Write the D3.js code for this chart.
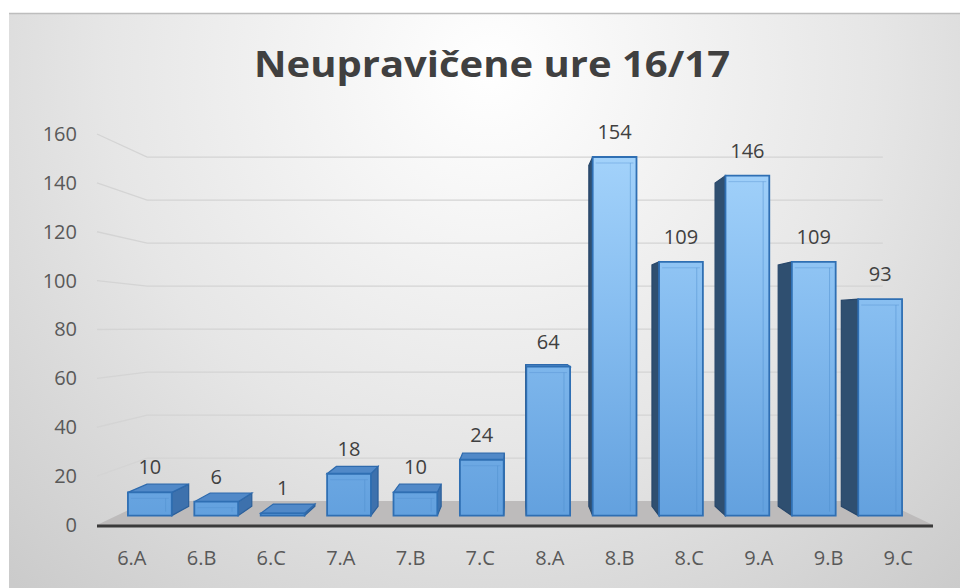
<!DOCTYPE html>
<html>
<head>
<meta charset="utf-8">
<script src="https://cdn.jsdelivr.net/npm/d3@7"></script>
<style>
  html, body { margin: 0; padding: 0; background: #fff; }
  svg { display: block; font-family: "Open Sans", "Noto Sans", sans-serif; }
</style>
</head>
<body>
<svg id="chart" width="960" height="588"></svg>
<script>
// data
var classes = ["6.A", "6.B", "6.C", "7.A", "7.B", "7.C", "8.A", "8.B", "8.C", "9.A", "9.B", "9.C"];
var hours = [10, 6, 1, 18, 10, 24, 64, 154, 109, 146, 109, 93];
var yTicks = [0, 20, 40, 60, 80, 100, 120, 140, 160];
var title = "Neupravičene ure 16/17";

var svg = d3.select("#chart");
var defs = svg.append("defs");

// perspective: everything is laid out on the front plane, then pulled toward the vanishing point
var vx = 515, vy = 326;
var sWall = 0.88, sBarFront = 0.953, sBarBack = 0.906;
function proj(X, Y, s) {
    return [vx + (X - vx) * s, vy + (Y - vy) * s];
}

var x = d3.scaleBand().domain(classes).range([97, 933]).paddingInner(0.34).paddingOuter(0.17);
var y = d3.scaleLinear().domain([0, 160]).range([525, 134]);

// background
var bg = defs.append("radialGradient").attr("id", "bg")
    .attr("gradientUnits", "userSpaceOnUse")
    .attr("cx", 490).attr("cy", 70).attr("r", 700);
bg.append("stop").attr("offset", 0).attr("stop-color", "#ffffff");
bg.append("stop").attr("offset", 0.55).attr("stop-color", "#e6e6e6");
bg.append("stop").attr("offset", 1).attr("stop-color", "#cbcbcb");

var frontGrad = defs.append("linearGradient").attr("id", "front")
    .attr("gradientUnits", "userSpaceOnUse")
    .attr("x1", 0).attr("y1", 150).attr("x2", 0).attr("y2", 520);
frontGrad.append("stop").attr("offset", 0).attr("stop-color", "#a4d3fb");
frontGrad.append("stop").attr("offset", 0.45).attr("stop-color", "#86bdf0");
frontGrad.append("stop").attr("offset", 1).attr("stop-color", "#62a0de");

svg.append("rect").attr("x", 9).attr("y", 13).attr("width", 951).attr("height", 575)
    .attr("fill", "url(#bg)");
svg.append("line").attr("x1", 9).attr("x2", 960).attr("y1", 13.5).attr("y2", 13.5)
    .attr("stroke", "#bdbdbd").attr("stroke-width", 1.5);

// title
svg.append("text").attr("x", 492).attr("y", 77)
    .attr("text-anchor", "middle")
    .attr("font-size", 35).attr("font-weight", "bold")
    .attr("fill", "#404040")
    .attr("textLength", 476).attr("lengthAdjust", "spacingAndGlyphs")
    .text(title);

var line = d3.line();
var x0 = x.range()[0], x1 = x.range()[1];

// floor
var floor = [proj(x0, y(0), 1), proj(x1, y(0), 1), proj(x1, y(0), sWall), proj(x0, y(0), sWall)];
svg.append("path").attr("d", line(floor) + "Z").attr("fill", "#bdbbbb");

// gridlines on the side wall and back wall
var grid = svg.append("g").attr("fill", "none").attr("stroke", "#d4d4d4").attr("stroke-width", 1.3);
yTicks.filter(function(t){ return t > 0; }).forEach(function(t){
    grid.append("path").attr("d", line([proj(x0, y(t), 1), proj(x0, y(t), sWall), proj(x1, y(t), sWall)]));
});

// bars
var bars = svg.append("g").selectAll("g").data(hours).join("g");
bars.each(function(v, i){
    var g = d3.select(this);
    var X1 = x(classes[i]), X2 = X1 + x.bandwidth();
    var Yt = y(v), Yb = y(0);
    var f = {
        tl: proj(X1, Yt, sBarFront), tr: proj(X2, Yt, sBarFront),
        bl: proj(X1, Yb, sBarFront), br: proj(X2, Yb, sBarFront)
    };
    var b = {
        tl: proj(X1, Yt, sBarBack), tr: proj(X2, Yt, sBarBack),
        bl: proj(X1, Yb, sBarBack), br: proj(X2, Yb, sBarBack)
    };
    if (X2 < vx) {
        g.append("path").attr("d", line([f.tr, b.tr, b.br, f.br]) + "Z")
            .attr("fill", "#3d71ad").attr("stroke", "#2b5f9a").attr("stroke-width", 1.2);
    }
    if (X1 > vx) {
        g.append("path").attr("d", line([f.tl, b.tl, b.bl, f.bl]) + "Z")
            .attr("fill", "#2f4f70").attr("stroke", "#28476a").attr("stroke-width", 1.2);
    }
    if (Yt > vy) {
        g.append("path").attr("d", line([f.tl, f.tr, b.tr, b.tl]) + "Z")
            .attr("fill", "#5189c8").attr("stroke", "#2e6aad").attr("stroke-width", 1.2);
    }
    g.append("path").attr("d", line([f.tl, f.tr, f.br, f.bl]) + "Z")
        .attr("fill", "url(#front)").attr("stroke", "#2f6fb3").attr("stroke-width", 1.8);
    // faint inner bevel of the front face
    var w = f.tr[0] - f.tl[0], h = f.bl[1] - f.tl[1];
    if (h > 12) {
        g.append("line").attr("x1", f.tr[0] - w * 0.14).attr("x2", f.tr[0] - w * 0.14)
            .attr("y1", f.tl[1] + 6).attr("y2", f.bl[1] - 4)
            .attr("stroke", "#4f8fd0").attr("stroke-opacity", 0.5);
        g.append("line").attr("x1", f.tl[0] + 3).attr("x2", f.tr[0] - 3)
            .attr("y1", f.tl[1] + 6).attr("y2", f.tl[1] + 6)
            .attr("stroke", "#4f8fd0").attr("stroke-opacity", 0.4);
    }
    g.append("text").attr("x", (f.tl[0] + f.tr[0]) / 2).attr("y", f.tl[1] - 18)
        .attr("text-anchor", "middle").attr("font-size", 20).attr("fill", "#404040")
        .text(v);
});

// front axis line
svg.append("line").attr("x1", x0).attr("x2", x1).attr("y1", 526).attr("y2", 526)
    .attr("stroke", "#3a3a3a").attr("stroke-width", 3);

// axes
var yAxis = svg.append("g").attr("transform", "translate(77,0)")
    .call(d3.axisLeft(y).tickValues(yTicks).tickSize(0).tickPadding(0));
var xAxis = svg.append("g").attr("transform", "translate(0,526)")
    .call(d3.axisBottom(x).tickSize(0).tickPadding(25));
[yAxis, xAxis].forEach(function(a){
    a.select(".domain").remove();
    a.selectAll("text").attr("font-size", 20).attr("fill", "#595959")
        .attr("font-family", "'Open Sans', 'Noto Sans', sans-serif");
});
</script>
</body>
</html>
